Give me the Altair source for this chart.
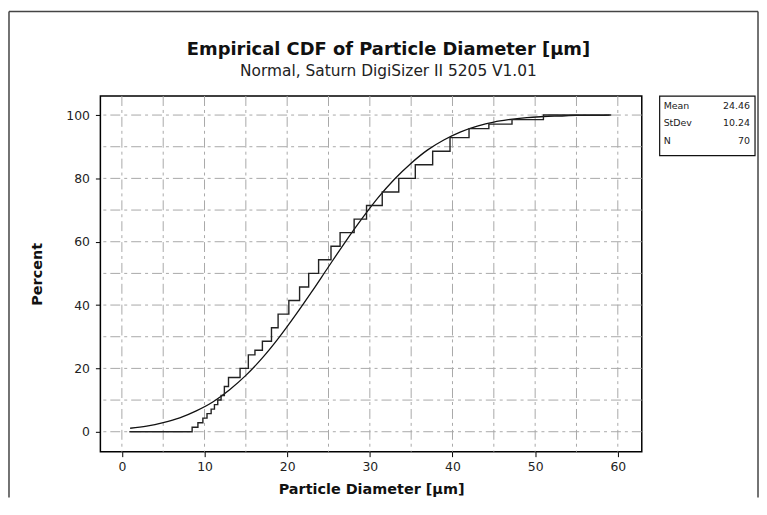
import altair as alt
import pandas as pd

# ---------------- data ----------------
diameters = [
    8.5, 9.2, 9.8, 10.3, 10.8, 11.2, 11.6, 12.0, 12.4, 12.4,
    12.9, 12.9, 14.3, 14.3, 15.3, 15.3, 15.3, 16.1, 17.0, 17.0,
    18.1, 18.1, 18.1, 18.9, 18.9, 18.9, 20.2, 20.2, 20.2, 21.5,
    21.5, 21.5, 22.6, 22.6, 22.6, 23.8, 23.8, 23.8, 25.3, 25.3,
    25.3, 26.4, 26.4, 26.4, 28.1, 28.1, 28.1, 29.6, 29.6, 29.6,
    31.5, 31.5, 31.5, 33.5, 33.5, 33.5, 35.5, 35.5, 35.5, 37.6,
    37.6, 37.6, 39.7, 39.7, 39.7, 42.0, 42.0, 44.4, 47.2, 51.0,
]
ecdf_start_x = 0.9
ecdf_end_x = 59.2

fit_x = [1, 3, 5, 7, 9, 11, 13, 15, 17, 19, 21, 23, 25, 27, 29,
         31, 33, 35, 37, 39, 41, 43, 45, 47, 49, 51, 53, 55, 57, 59]
fit_pct = [1.1, 1.8, 2.9, 4.4, 6.6, 9.4, 13.2, 17.8, 23.3, 29.7,
           36.8, 44.3, 52.1, 59.8, 67.1, 73.9, 79.8, 84.8, 89.0, 92.2,
           94.7, 96.5, 97.8, 98.6, 99.2, 99.5, 99.7, 99.9, 99.9, 100.0]

x_grid = [0, 5, 10, 15, 20, 25, 30, 35, 40, 45, 50, 55, 60]
y_grid = [0, 10, 20, 30, 40, 50, 60, 70, 80, 90, 100]
x_ticks = [0, 10, 20, 30, 40, 50, 60]
y_ticks = [0, 20, 40, 60, 80, 100]

stat_labels = ["Mean", "StDev", "N"]
stat_values = ["24.46", "10.24", "70"]

title_text = "Empirical CDF of Particle Diameter [µm]"
subtitle_text = "Normal, Saturn DigiSizer II 5205 V1.01"

# ---------------- tables ----------------
n = len(diameters)
rows = [{"d": ecdf_start_x, "pct": 0.0}]
cum = 0
for u in sorted(set(diameters)):
    cum += diameters.count(u)
    rows.append({"d": u, "pct": 100.0 * cum / n})
rows.append({"d": ecdf_end_x, "pct": 100.0})
ecdf_df = pd.DataFrame(rows)
fit_df = pd.DataFrame({"d": fit_x, "pct": fit_pct})
xg_df = pd.DataFrame({"d": x_grid})
yg_df = pd.DataFrame({"pct": y_grid})

F = "DejaVu Sans"
W, H = 545, 358

xs = alt.Scale(domain=[-2.6, 62.9], nice=False, zero=False)
ys = alt.Scale(domain=[-6.3, 106], nice=False, zero=False)

x_axis = alt.Axis(title="Particle Diameter [µm]", values=x_ticks, grid=False,
                  domain=False, ticks=True, tickColor="#000", tickSize=5,
                  tickWidth=1, labelFont=F, labelFontSize=12.5, labelColor="#222",
                  labelPadding=4, labelFlush=False, format="d",
                  titleFont=F, titleFontSize=14.5, titleFontWeight="bold",
                  titleColor="#111", titlePadding=10)
y_axis = alt.Axis(title="Percent", values=y_ticks, grid=False,
                  domain=False, ticks=True, tickColor="#000", tickSize=5,
                  tickWidth=1, labelFont=F, labelFontSize=12.5, labelColor="#222",
                  labelPadding=6, labelFlush=False, format="d",
                  titleFont=F, titleFontSize=14.5, titleFontWeight="bold",
                  titleColor="#111", titlePadding=21)

X = lambda: alt.X("d:Q", scale=xs, axis=x_axis)
Y = lambda: alt.Y("pct:Q", scale=ys, axis=y_axis)

dash = [10, 4, 3, 4]
vgrid = alt.Chart(xg_df).mark_rule(color="#a8a8a8", strokeWidth=1,
                                   strokeDash=dash).encode(x=X())
hgrid = alt.Chart(yg_df).mark_rule(color="#a8a8a8", strokeWidth=1,
                                   strokeDash=dash).encode(y=Y())

fit_line = alt.Chart(fit_df).mark_line(color="#111", strokeWidth=1.3,
                                       interpolate="monotone").encode(x=X(), y=Y())
ecdf_line = alt.Chart(ecdf_df).mark_line(color="#222", strokeWidth=1.4,
                                         interpolate="step-after").encode(x=X(), y=Y())

one = pd.DataFrame({"k": [0]})
frame_col = "#444"
frame_left = alt.Chart(one).mark_rule(color=frame_col, strokeWidth=1.5).encode(
    x=alt.value(-92), y=alt.value(-85), y2=alt.value(404))
frame_right = alt.Chart(one).mark_rule(color=frame_col, strokeWidth=1.5).encode(
    x=alt.value(662), y=alt.value(-85), y2=alt.value(404))
frame_top = alt.Chart(one).mark_rule(color=frame_col, strokeWidth=1.5).encode(
    x=alt.value(-92), x2=alt.value(662), y=alt.value(-85))

tdf = pd.DataFrame({"t": [title_text], "s": [subtitle_text]})
title_mark = alt.Chart(tdf).mark_text(align="center", baseline="middle", font=F,
                                      fontSize=18, fontWeight="bold", color="#111").encode(
    x=alt.value(290), y=alt.value(-46), text="t:N")
subtitle_mark = alt.Chart(tdf).mark_text(align="center", baseline="middle", font=F,
                                         fontSize=15.5, color="#222").encode(
    x=alt.value(290), y=alt.value(-25), text="s:N")

box = alt.Chart(one).mark_rect(fill="white", stroke="#111", strokeWidth=1.2).encode(
    x=alt.value(563), x2=alt.value(659), y=alt.value(0), y2=alt.value(60))

stat_layers = []
for i, (lab, val) in enumerate(zip(stat_labels, stat_values)):
    d = pd.DataFrame({"label": [lab], "value": [val]})
    ypos = 10 + i * 17.5
    stat_layers.append(alt.Chart(d).mark_text(align="left", baseline="middle",
                                              font=F, fontSize=9.5, color="#222").encode(
        x=alt.value(567), y=alt.value(ypos), text="label:N"))
    stat_layers.append(alt.Chart(d).mark_text(align="right", baseline="middle",
                                              font=F, fontSize=9.5, color="#222").encode(
        x=alt.value(654), y=alt.value(ypos), text="value:N"))

chart = alt.layer(
    vgrid, hgrid, fit_line, ecdf_line, frame_left, frame_right, frame_top,
    title_mark, subtitle_mark, box, *stat_layers
).properties(
    width=W, height=H,
    padding={"left": 0, "top": 1, "right": 0, "bottom": 0},
    background="white",
).configure_view(stroke="#000", strokeWidth=1.5)

chart.save("out.html", embed_options={"renderer": "svg", "actions": False})
